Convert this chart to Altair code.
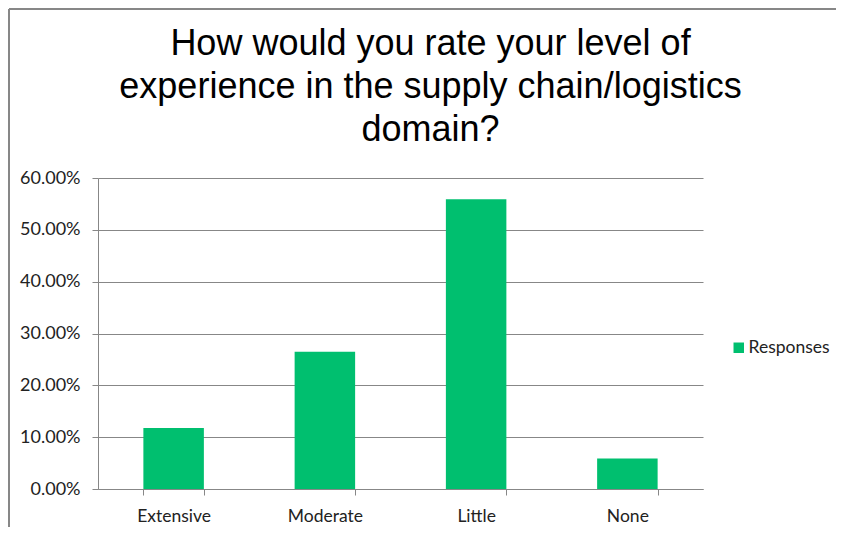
import altair as alt
import pandas as pd

categories = ["Extensive", "Moderate", "Little", "None"]
values = [0.1176, 0.2647, 0.5588, 0.0588]
series = ["Responses", "Responses", "Responses", "Responses"]

title_lines = ["How would you rate your level of",
               "experience in the supply chain/logistics",
               "domain?"]

df = pd.DataFrame({"category": categories, "value": values, "series": series})

GRAY = "#878787"
FONT = "Lato"

bars = alt.Chart(df).mark_bar(color="#00BF6F").encode(
    x=alt.X("category:N", sort=categories, title=None,
            scale=alt.Scale(paddingInner=0.6, paddingOuter=0.3),
            axis=alt.Axis(labelAngle=0, tickBand="extent", tickSize=6,
                          domainColor=GRAY, tickColor=GRAY, labelPadding=12,
                          labelFont=FONT, labelFontSize=17.5, labelColor="#222222",
                          grid=False)),
    y=alt.Y("value:Q", title=None,
            scale=alt.Scale(domain=[0, 0.6], nice=False),
            axis=alt.Axis(format=".2%", values=[0, 0.1, 0.2, 0.3, 0.4, 0.5, 0.6],
                          tickSize=6, domainColor=GRAY, tickColor=GRAY,
                          gridColor=GRAY, gridWidth=1, labelPadding=12,
                          labelFont=FONT, labelFontSize=18, labelColor="#222222")),
    color=alt.Color("series:N", title=None,
                    scale=alt.Scale(range=["#00BF6F"]),
                    legend=alt.Legend(orient="none", legendX=632, legendY=161,
                                      symbolType="square", symbolSize=110,
                                      symbolStrokeWidth=0, labelOffset=1,
                                      labelFont=FONT, labelFontSize=17.5,
                                      labelColor="#222222")),
)

frame_src = alt.Chart(pd.DataFrame({"a": [0]}))
left_line = frame_src.mark_rule(color=GRAY, strokeWidth=2).encode(
    x=alt.value(-89), y=alt.value(-169), y2=alt.value(400))
top_line = frame_src.mark_rule(color=GRAY, strokeWidth=2).encode(
    x=alt.value(-89), x2=alt.value(900), y=alt.value(-169))

chart = alt.layer(bars, left_line, top_line).properties(
    width=605, height=311,
    title=alt.TitleParams(text=title_lines, font="Liberation Sans", fontSize=36,
                          fontWeight="normal", color="#000000", lineHeight=43,
                          anchor="middle", frame="group", baseline="alphabetic",
                          dx=30, dy=169, offset=0),
    autosize=alt.AutoSizeParams(type="none"),
    padding={"left": 90, "top": 170, "right": 133, "bottom": 38},
).configure_view(stroke=None)

chart.save("out.html", embed_options={"renderer": "svg", "actions": False})
